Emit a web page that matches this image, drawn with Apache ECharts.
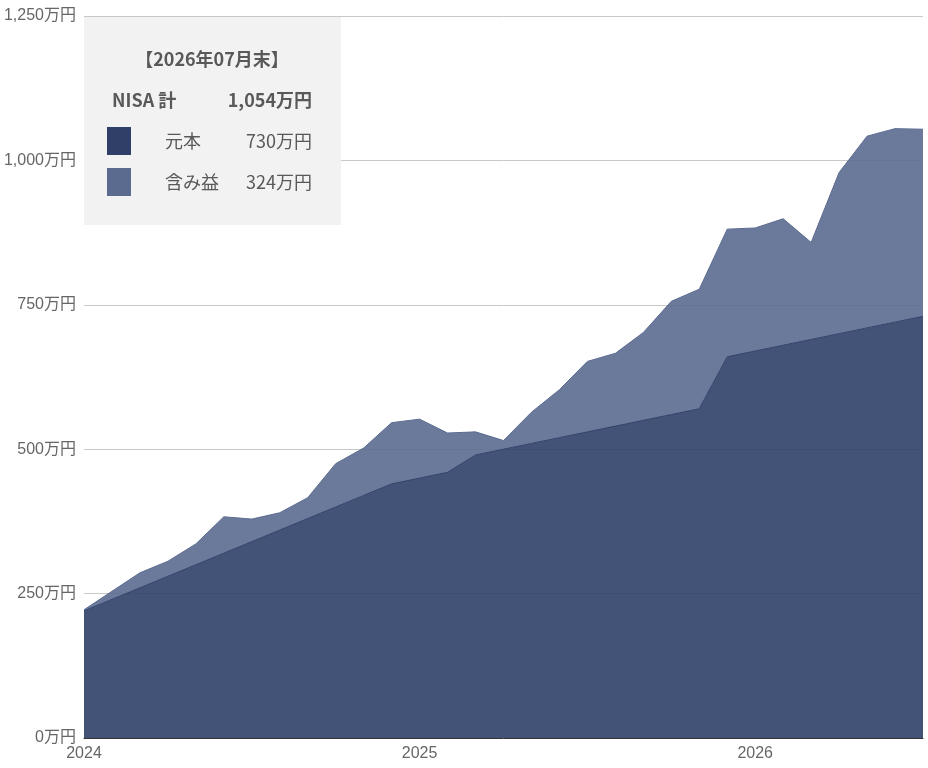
<!DOCTYPE html>
<html>
<head>
<meta charset="utf-8">
<script src="https://cdn.jsdelivr.net/npm/echarts@6/dist/echarts.min.js"></script>
<style>
html,body{margin:0;padding:0;background:#fff;}
#c{width:928px;height:768px;}
</style>
</head>
<body>
<div id="c"></div>
<script>
const months = [
  '2024-01','2024-02','2024-03','2024-04','2024-05','2024-06','2024-07','2024-08','2024-09','2024-10','2024-11','2024-12',
  '2025-01','2025-02','2025-03','2025-04','2025-05','2025-06','2025-07','2025-08','2025-09','2025-10','2025-11','2025-12',
  '2026-01','2026-02','2026-03','2026-04','2026-05','2026-06','2026-07'
];
const principal = [
  220,240,260,280,300,320,340,360,380,400,420,440,
  450,460,490,500,510,520,530,540,550,560,570,660,
  670,680,690,700,710,720,730
];
const gain = [
  2,14,26,26,36,63,39,30,36,75,82,106,
  102,68,40,15,54,83,122,126,152,196,207,221,
  213,219,168,279,332,335,324
];
const yTicks = [0,250,500,750,1000,1250];
const yearLabelIdx = [0,12,24];

const fmt = v => v.toLocaleString('en-US') + '万円';
const last = months.length - 1;
const lastP = principal[last], lastG = gain[last];
const [ly, lm] = months[last].split('-');

const chart = echarts.init(document.getElementById('c'));
const FONT = '"Liberation Sans", "Noto Sans CJK JP", sans-serif';
const LFONT = '"Noto Sans CJK JP", sans-serif';
chart.setOption({
  animation: false,
  grid: {left: 84, right: 5, top: 16, bottom: 30},
  xAxis: {
    type: 'category',
    data: months,
    boundaryGap: false,
    axisLine: {lineStyle: {color: '#333', width: 1}},
    axisTick: {show: false},
    axisLabel: {
      interval: (i) => yearLabelIdx.includes(i),
      formatter: (v) => v.slice(0,4),
      color: '#666', fontSize: 16, fontFamily: FONT, margin: 8
    },
    splitLine: {show: false}
  },
  yAxis: {
    type: 'value',
    min: yTicks[0], max: yTicks[yTicks.length-1], interval: 250,
    axisLine: {show: false},
    axisTick: {show: false},
    axisLabel: {formatter: fmt, color: '#666', fontSize: 16, fontFamily: FONT, margin: 8},
    splitLine: {lineStyle: {color: '#c8c8c8', width: 1}}
  },
  series: [
    {
      name: '元本', type: 'line', stack: 'total', data: principal,
      symbol: 'none', smooth: false,
      lineStyle: {color: '#2f3f68', width: 1},
      areaStyle: {color: '#2f3f68', opacity: 0.9}
    },
    {
      name: '含み益', type: 'line', stack: 'total', data: gain,
      symbol: 'none', smooth: false,
      lineStyle: {color: '#5b6b90', width: 1},
      areaStyle: {color: '#5b6b90', opacity: 0.9}
    }
  ],
  graphic: [
    {type: 'rect', z: 100, shape: {x: 84, y: 17, width: 257, height: 208}, style: {fill: '#f2f2f2'}},
    {type: 'text', z: 101, x: 212, y: 59, style: {text: '【' + ly + '年' + lm + '月末】', fill: '#595959', font: 'bold 18px ' + LFONT, textAlign: 'center', textVerticalAlign: 'middle'}},
    {type: 'text', z: 101, x: 112, y: 100, style: {text: 'NISA 計', fill: '#595959', font: 'bold 18px ' + LFONT, textAlign: 'left', textVerticalAlign: 'middle'}},
    {type: 'text', z: 101, x: 312, y: 100, style: {text: fmt(lastP + lastG), fill: '#595959', font: 'bold 18px ' + LFONT, textAlign: 'right', textVerticalAlign: 'middle'}},
    {type: 'rect', z: 101, shape: {x: 107, y: 127, width: 24, height: 28}, style: {fill: '#2f3f68'}},
    {type: 'text', z: 101, x: 165, y: 141, style: {text: '元本', fill: '#595959', font: '18px ' + LFONT, textAlign: 'left', textVerticalAlign: 'middle'}},
    {type: 'text', z: 101, x: 312, y: 141, style: {text: fmt(lastP), fill: '#595959', font: '18px ' + LFONT, textAlign: 'right', textVerticalAlign: 'middle'}},
    {type: 'rect', z: 101, shape: {x: 107, y: 168, width: 24, height: 28}, style: {fill: '#5b6b90'}},
    {type: 'text', z: 101, x: 165, y: 182, style: {text: '含み益', fill: '#595959', font: '18px ' + LFONT, textAlign: 'left', textVerticalAlign: 'middle'}},
    {type: 'text', z: 101, x: 312, y: 182, style: {text: fmt(lastG), fill: '#595959', font: '18px ' + LFONT, textAlign: 'right', textVerticalAlign: 'middle'}}
  ]
});
</script>
</body>
</html>
